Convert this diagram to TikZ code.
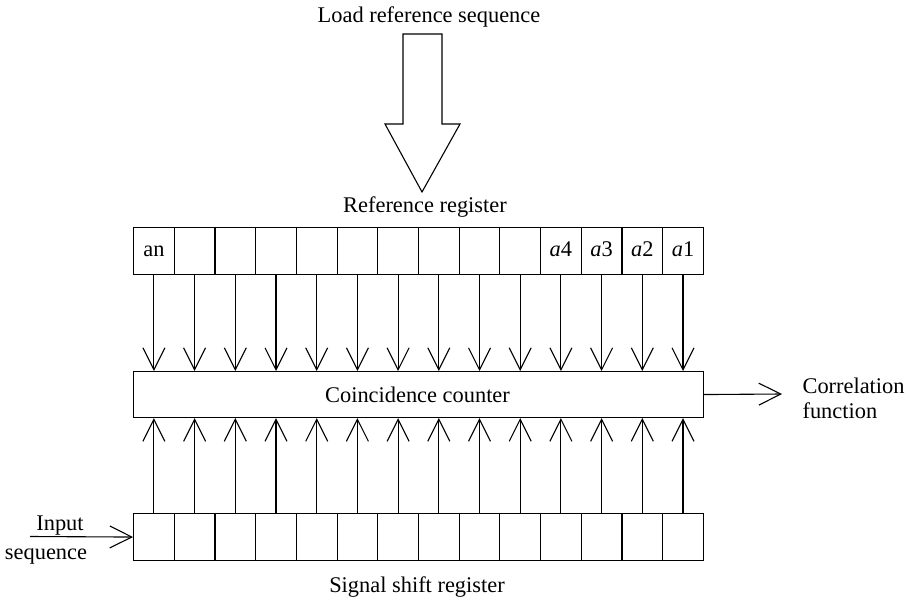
\documentclass[tikz,border=0pt]{standalone}
\usepackage{fontspec}
\setmainfont{Liberation Serif}
\usetikzlibrary{arrows.meta}

\begin{document}
\begin{tikzpicture}[x=1pt,y=-1pt,
  font=\fontsize{22.4}{25}\selectfont,
  line width=1.1pt,
  cell/.style={draw, minimum width=40.7pt, minimum height=47pt, inner sep=0pt, anchor=north west},
  lbl/.style={anchor=base, inner sep=0pt},
  vee/.style={-{Straight Barb[length=22pt, width=22pt, line width=1.1pt]}}
]
\useasboundingbox (0,0) rectangle (912,601);

% block arrow that loads the reference sequence
\draw[line join=miter] (403,34) -- (442,34) -- (442,124) -- (460,124)
  -- (422,192) -- (385,124) -- (403,124) -- cycle;
\node[lbl] (load) at (429,23) {Load reference sequence};
\node[lbl] (reflbl) at (425,213) {Reference register};

% reference register cells
\foreach \i in {1,...,14} {
  \node[cell] (r\i) at ({133+(\i-1)*40.7},227) {};
}
\node[lbl] (t1) at (r1.center |- 0,257) {an};
\node[lbl] (t11) at (r11.center |- 0,257) {\textit{a}4};
\node[lbl] (t12) at (r12.center |- 0,257) {\textit{a}3};
\node[lbl] (t13) at (r13.center |- 0,257) {\textit{a}2};
\node[lbl] (t14) at (r14.center |- 0,257) {\textit{a}1};

% coincidence counter
\node[draw, anchor=north west, minimum width=569.8pt, minimum height=46pt, inner sep=0pt]
  (counter) at (133,371) {};
\node[lbl] (ctext) at (417.5,402) {Coincidence counter};

% signal shift register cells
\foreach \i in {1,...,14} {
  \node[cell] (s\i) at ({133+(\i-1)*40.7},513) {};
}
\node[lbl] (siglbl) at (417,592) {Signal shift register};

% connections between the registers and the counter
\foreach \i in {1,...,14} {
  \draw[vee] (r\i.south) -- (r\i.south |- counter.north);
  \draw[vee] (s\i.north) -- (s\i.north |- counter.south);
}

% input and output
\coordinate (inp) at (30,536.5);
\draw[vee] (inp) -- (s1.west);
\node[lbl] (inlbl) at (60,530) {Input};
\node[lbl] (seqlbl) at (46,559) {sequence};

\coordinate (outp) at (782,394);
\draw[vee] (counter.east) -- (outp);
\node[anchor=west, align=left, inner sep=0pt] (corr) at (802,398) {Correlation\\function};
\end{tikzpicture}
\end{document}
